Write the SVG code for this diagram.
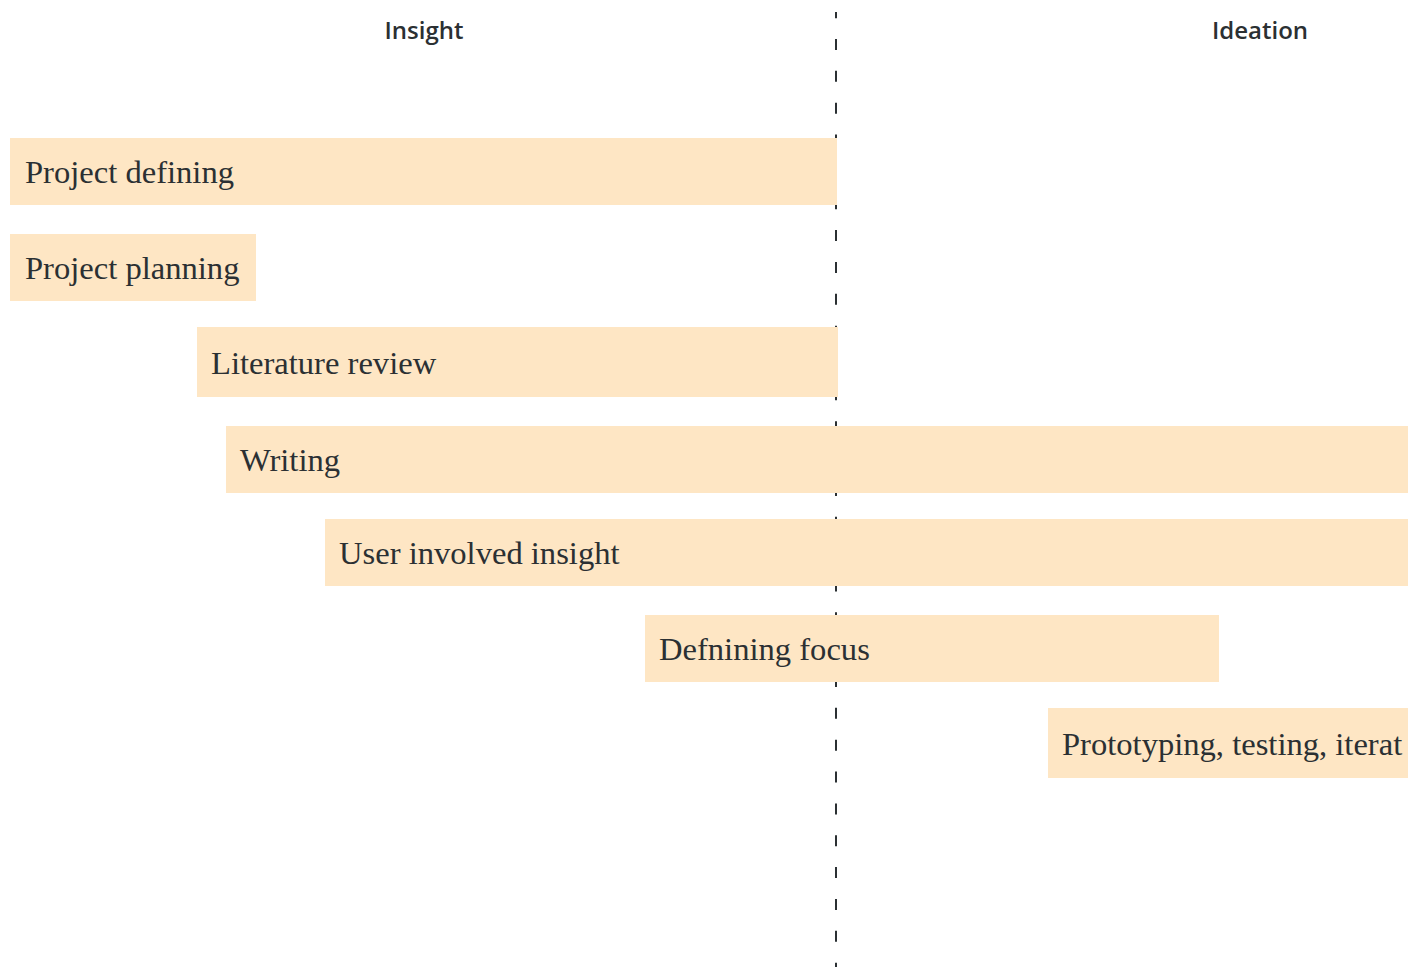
<svg xmlns="http://www.w3.org/2000/svg" width="1408" height="967" viewBox="0 0 1408 967">
  <style>
    .bar { fill: #fee6c4; }
    .label { font-family: "Liberation Serif", "Times New Roman", serif; font-size: 32.6px; fill: #2b3033; }
    .phase { font-family: "Open Sans", "Noto Sans", sans-serif; font-size: 24px; font-weight: 600; fill: #2b3033; text-anchor: middle; }
    .divider { stroke: #2b3033; stroke-width: 2; stroke-dasharray: 11 20.85; stroke-dashoffset: 4.85; fill: none; }
  </style>
  <rect width="1408" height="967" fill="#ffffff"/>

  <!-- phase headings -->
  <g id="phase-insight"><text class="phase" x="424" y="39">Insight</text></g>
  <g id="phase-ideation"><text class="phase" x="1260" y="39">Ideation</text></g>

  <!-- phase boundary -->
  <g id="connectors">
    <line class="divider" x1="836" y1="12" x2="836" y2="967"/>
  </g>

  <!-- activity bars -->
  <g id="project-defining">
    <rect class="bar" x="10" y="138" width="827" height="67"/>
    <text class="label" x="25" y="183">Project defining</text>
  </g>
  <g id="project-planning">
    <rect class="bar" x="10" y="234" width="246" height="67"/>
    <text class="label" x="25" y="279">Project planning</text>
  </g>
  <g id="literature-review">
    <rect class="bar" x="197" y="327" width="641" height="70"/>
    <text class="label" x="211" y="374">Literature review</text>
  </g>
  <g id="writing">
    <rect class="bar" x="226" y="426" width="1182" height="67"/>
    <text class="label" x="240" y="471">Writing</text>
  </g>
  <g id="user-involved-insight">
    <rect class="bar" x="325" y="519" width="1083" height="67"/>
    <text class="label" x="339" y="564">User involved insight</text>
  </g>
  <g id="defining-focus">
    <rect class="bar" x="645" y="615" width="574" height="67"/>
    <text class="label" x="659" y="660">Defnining focus</text>
  </g>
  <g id="prototyping">
    <rect class="bar" x="1048" y="708" width="360" height="70"/>
    <text class="label" x="1062" y="755">Prototyping, testing, iterat</text>
  </g>
</svg>
